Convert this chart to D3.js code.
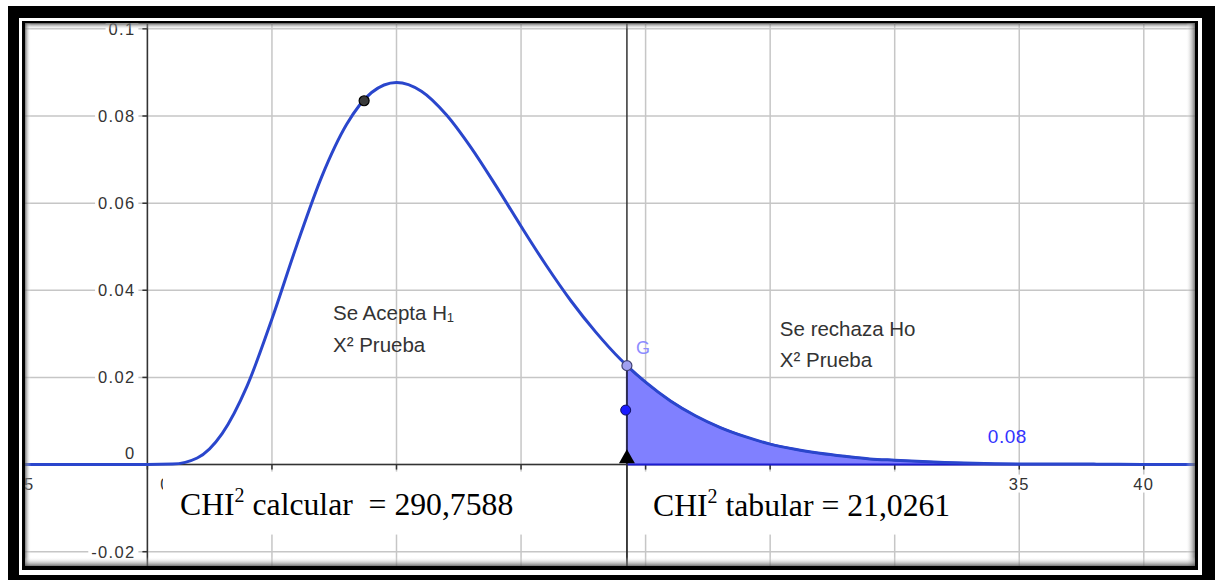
<!DOCTYPE html>
<html>
<head>
<meta charset="utf-8">
<script src="https://cdn.jsdelivr.net/npm/d3@7"></script>
<style>
  body { margin: 0; background: #fff; }
  svg { display: block; }
  text { white-space: pre; }
</style>
</head>
<body>
<svg width="1222" height="580"></svg>
<script>
// curva chi cuadrado (x, densidad)
const curveX = [-6, 0, 1, 2, 3, 4, 5, 6, 7, 8, 9, 10, 11, 12, 13, 14, 15, 16, 17, 18, 19, 19.25, 20, 21, 22, 23, 24, 25, 26, 27, 28, 29, 30, 32, 34, 36, 38, 40, 43];
const curveY = [0, 0, 0.0001, 0.0015, 0.0071, 0.018, 0.0334, 0.0504, 0.0661, 0.0781, 0.0854, 0.0877, 0.0857, 0.0803, 0.0727, 0.0639, 0.0547, 0.0458, 0.0376, 0.0304, 0.0241, 0.0227, 0.0189, 0.0146, 0.0112, 0.0085, 0.0064, 0.0047, 0.0035, 0.0026, 0.0019, 0.0013, 0.001, 0.0005, 0.0002, 0.0001, 0.0001, 0, 0];

// valor critico (linea vertical) y puntos
const critX = 19.25;
const pointBlack = [8.7, 0.0835];
const pointG = [19.25, 0.0227];
const pointBlue = [19.2, 0.0125];

// ejes (las etiquetas 5..30 quedan tapadas por las cajas de texto)
const xTicks = [-5, 0, 5, 10, 15, 20, 25, 30, 35, 40];
const xLabelTicks = [-5, 0, 35, 40];
const xTickLabels = ["-5", "0", "35", "40"];
const yTicks = [-0.02, 0, 0.02, 0.04, 0.06, 0.08, 0.1];
const yTickLabels = ["-0.02", "0", "0.02", "0.04", "0.06", "0.08", "0.1"];

// textos
const acceptLines = ["Se Acepta H\u2081", "X\u00b2 Prueba"];
const rejectLines = ["Se rechaza Ho", "X\u00b2 Prueba"];
const areaLabel = "0.08";
const calcText = ["CHI", "2", " calcular  = 290,7588"];
const tabText = ["CHI", "2", " tabular = 21,0261"];

const svg = d3.select("svg");
const W = 1222, H = 580;
const plot = { x0: 25, y0: 23.5, x1: 1195, y1: 566 };

const x = d3.scaleLinear().domain([0, 40]).range([147.4, 1143.8]);
const y = d3.scaleLinear().domain([-0.02, 0.08]).range([551.7, 116]);

// marco doble negro
svg.append("rect").attr("x", 8).attr("y", 6).attr("width", 1207).attr("height", H - 6).attr("fill", "#000");
svg.append("rect").attr("x", 19).attr("y", 18).attr("width", 1183).attr("height", 557).attr("fill", "#fff");
svg.append("rect").attr("x", 22).attr("y", 21).attr("width", 1176).attr("height", 549).attr("fill", "#000");
svg.append("rect").attr("x", plot.x0).attr("y", plot.y0)
    .attr("width", plot.x1 - plot.x0).attr("height", plot.y1 - plot.y0).attr("fill", "#fff");

const defs = svg.append("defs");
defs.append("clipPath").attr("id", "clip")
    .append("rect").attr("x", plot.x0).attr("y", plot.y0)
    .attr("width", plot.x1 - plot.x0).attr("height", plot.y1 - plot.y0);

const g = svg.append("g").attr("clip-path", "url(#clip)");

// cuadricula
g.selectAll(".vgrid").data(xTicks).join("line")
    .attr("x1", d => x(d)).attr("x2", d => x(d))
    .attr("y1", plot.y0).attr("y2", plot.y1)
    .attr("stroke", "#c6c6c6").attr("stroke-width", 1.5);
g.selectAll(".hgrid").data(yTicks).join("line")
    .attr("x1", plot.x0).attr("x2", plot.x1)
    .attr("y1", d => y(d)).attr("y2", d => y(d))
    .attr("stroke", "#c6c6c6").attr("stroke-width", 1.5);

// ejes
g.append("line").attr("x1", plot.x0).attr("x2", plot.x1).attr("y1", y(0)).attr("y2", y(0))
    .attr("stroke", "#333").attr("stroke-width", 1.5);
g.append("line").attr("x1", x(0)).attr("x2", x(0)).attr("y1", plot.y0).attr("y2", plot.y1)
    .attr("stroke", "#333").attr("stroke-width", 1.5);
g.selectAll(".xtick").data(xTicks).join("line")
    .attr("x1", d => x(d)).attr("x2", d => x(d))
    .attr("y1", y(0)).attr("y2", y(0) + 5)
    .attr("stroke", "#333").attr("stroke-width", 1.5);
g.selectAll(".ytick").data(yTicks).join("line")
    .attr("x1", x(0) - 5).attr("x2", x(0))
    .attr("y1", d => y(d)).attr("y2", d => y(d))
    .attr("stroke", "#333").attr("stroke-width", 1.5);

// etiquetas de ejes con fondo blanco
const tickFont = "Liberation Sans, Arial, sans-serif";
yTicks.forEach((v, i) => {
    const isZero = v === 0;
    const t = g.append("text")
        .attr("x", x(0) - 12)
        .attr("y", isZero ? y(0) - 6 : y(v) + 6)
        .attr("text-anchor", "end")
        .attr("font-family", tickFont).attr("font-size", 16.5)
        .attr("letter-spacing", 1.3)
        .attr("fill", "#333")
        .text(yTickLabels[i]);
    if (!isZero) {
        const b = t.node().getBBox();
        g.insert("rect", () => t.node())
            .attr("x", b.x - 3).attr("y", b.y).attr("width", b.width + 6).attr("height", b.height)
            .attr("fill", "#fff");
    }
});
xLabelTicks.forEach((v, i) => {
    let dx = 0;
    if (v === 0) dx = 18;
    if (v < 0) dx = 3;
    const t = g.append("text")
        .attr("x", x(v) + dx)
        .attr("y", y(0) + 25)
        .attr("text-anchor", "middle")
        .attr("font-family", tickFont).attr("font-size", 16.5)
        .attr("letter-spacing", 1.3)
        .attr("fill", "#333")
        .text(xTickLabels[i]);
    const b = t.node().getBBox();
    g.insert("rect", () => t.node())
        .attr("x", b.x - 2).attr("y", b.y).attr("width", b.width + 4).attr("height", b.height)
        .attr("fill", "#fff");
});

// datos
const data = curveX.map((d, i) => ({ x: d, y: curveY[i] }));
const tail = data.filter(d => d.x >= critX);

const area = d3.area()
    .x(d => x(d.x)).y0(y(0)).y1(d => y(d.y))
    .curve(d3.curveMonotoneX);
g.append("path").attr("d", area(tail))
    .attr("fill", "#8080ff").attr("stroke", "#1c1cd0").attr("stroke-width", 2);

const line = d3.line()
    .x(d => x(d.x)).y(d => y(d.y))
    .curve(d3.curveMonotoneX);
g.append("path").attr("d", line(data))
    .attr("fill", "none").attr("stroke", "#2a46cc").attr("stroke-width", 3);

// linea vertical del valor critico
g.append("line").attr("x1", x(critX)).attr("x2", x(critX)).attr("y1", plot.y0).attr("y2", plot.y1)
    .attr("stroke", "#333").attr("stroke-width", 1.5);

// triangulo sobre el eje
const tri = d3.symbol().type(d3.symbolTriangle).size(110);
g.append("path").attr("d", tri())
    .attr("transform", `translate(${x(critX)}, ${y(0) - 6})`)
    .attr("fill", "#000");

// puntos
g.append("circle").attr("cx", x(pointBlack[0])).attr("cy", y(pointBlack[1])).attr("r", 5)
    .attr("fill", "#3a3a3a").attr("stroke", "#000").attr("stroke-width", 1.2);
g.append("circle").attr("cx", x(pointBlue[0])).attr("cy", y(pointBlue[1])).attr("r", 5)
    .attr("fill", "#1a1aff").attr("stroke", "#101060").attr("stroke-width", 1);
g.append("circle").attr("cx", x(pointG[0])).attr("cy", y(pointG[1])).attr("r", 5)
    .attr("fill", "#a0a0f0").attr("stroke", "#404070").attr("stroke-width", 1.2);
g.append("text").attr("x", x(pointG[0]) + 9).attr("y", y(pointG[1]) - 12)
    .attr("font-family", tickFont).attr("font-size", 18).attr("fill", "#8c8cff").text("G");

// textos de regiones
const labelFont = "Liberation Sans, Arial, sans-serif";
acceptLines.forEach((s, i) => {
    g.append("text").attr("x", x(7.45)).attr("y", y(0.0332) + i * 32)
        .attr("font-family", labelFont).attr("font-size", 20.5).attr("fill", "#333").text(s);
});
rejectLines.forEach((s, i) => {
    g.append("text").attr("x", x(25.39)).attr("y", y(0.0295) + i * 31)
        .attr("font-family", labelFont).attr("font-size", 20.5).attr("fill", "#333").text(s);
});
g.append("text").attr("x", x(33.74)).attr("y", y(0.005))
    .attr("font-family", labelFont).attr("font-size", 19).attr("letter-spacing", 0.5)
    .attr("fill", "#3333ff").text(areaLabel);

// cajas de texto CHI2
function chiBox(parts, x0, x1, tx, ty) {
    g.append("rect").attr("x", x0).attr("y", y(0) + 7).attr("width", x1 - x0).attr("height", 63)
        .attr("fill", "#fff");
    const t = g.append("text").attr("x", tx).attr("y", ty)
        .attr("font-family", "Liberation Serif, Times New Roman, serif")
        .attr("font-size", 31.7).attr("fill", "#000");
    t.append("tspan").text(parts[0]);
    t.append("tspan").attr("dy", -13).attr("font-size", 20).text(parts[1]);
    t.append("tspan").attr("dy", 13).text(parts[2]);
}
chiBox(calcText, 163, 620, 180, 515);
chiBox(tabText, 633, 1004, 653, 516);

// la linea vertical pasa por encima de las cajas
g.append("line").attr("x1", x(critX)).attr("x2", x(critX)).attr("y1", y(0)).attr("y2", plot.y1)
    .attr("stroke", "#333").attr("stroke-width", 1.5);

// sombra interior del marco
function shade(id, x1, y1, x2, y2) {
    const lg = defs.append("linearGradient").attr("id", id)
        .attr("x1", x1).attr("y1", y1).attr("x2", x2).attr("y2", y2);
    lg.append("stop").attr("offset", 0).attr("stop-color", "#555").attr("stop-opacity", 0.8);
    lg.append("stop").attr("offset", 1).attr("stop-color", "#fff").attr("stop-opacity", 0);
}
shade("sTop", 0, 0, 0, 1);
shade("sLeft", 0, 0, 1, 0);
shade("sRight", 1, 0, 0, 0);
shade("sBottom", 0, 1, 0, 0);
svg.append("rect").attr("x", plot.x0).attr("y", plot.y0).attr("width", plot.x1 - plot.x0).attr("height", 6).attr("fill", "url(#sTop)");
svg.append("rect").attr("x", plot.x0).attr("y", plot.y0).attr("width", 6).attr("height", plot.y1 - plot.y0).attr("fill", "url(#sLeft)");
svg.append("rect").attr("x", plot.x1 - 9).attr("y", plot.y0).attr("width", 9).attr("height", plot.y1 - plot.y0).attr("fill", "url(#sRight)");
svg.append("rect").attr("x", plot.x0).attr("y", plot.y1 - 9).attr("width", plot.x1 - plot.x0).attr("height", 9).attr("fill", "url(#sBottom)");
</script>
</body>
</html>
